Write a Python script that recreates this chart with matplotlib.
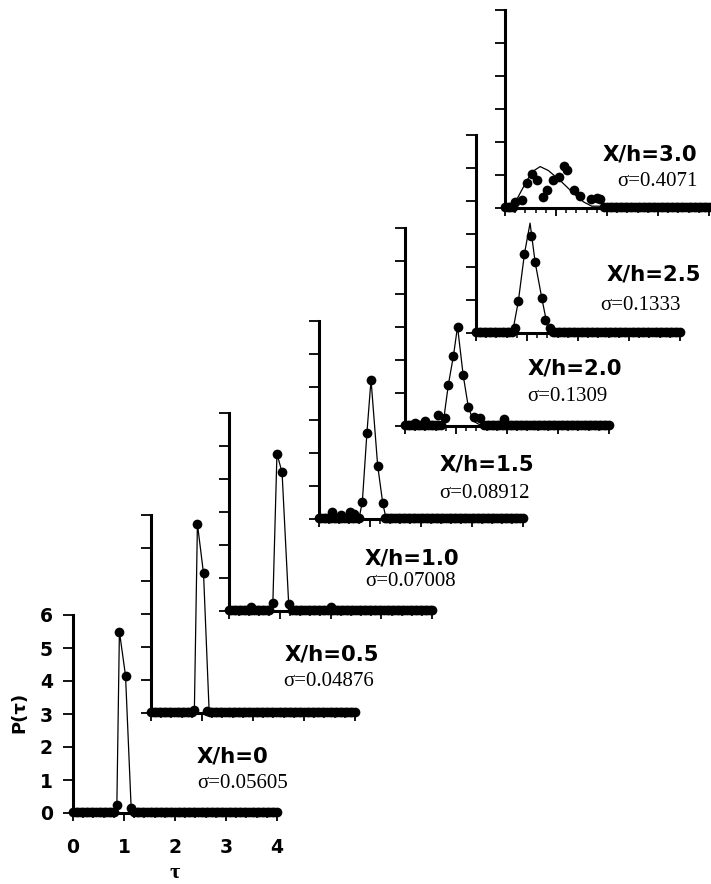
import numpy as np
import matplotlib.pyplot as plt
from matplotlib.ticker import MultipleLocator

# Travel-time distributions P(tau) at successive downstream stations

STATIONS = ["X/h=0", "X/h=0.5", "X/h=1.0", "X/h=1.5", "X/h=2.0", "X/h=2.5", "X/h=3.0"]
SIGMAS = ["σ=0.05605", "σ=0.04876", "σ=0.07008", "σ=0.08912",
          "σ=0.1309", "σ=0.1333", "σ=0.4071"]

# measured points in the peak region
tau_0 = [0.86, 0.91, 1.03, 1.14]
p_0 = [0.23, 5.50, 4.16, 0.16]
tau_1 = [0.85, 0.91, 1.03, 1.10]
p_1 = [0.08, 5.73, 4.23, 0.06]
tau_2 = [0.87, 0.95, 1.05, 1.18]
p_2 = [0.24, 4.75, 4.19, 0.20]
tau_3 = [0.86, 0.95, 1.03, 1.16, 1.26]
p_3 = [0.53, 2.62, 4.22, 1.62, 0.48]
tau_4 = [0.78, 0.85, 0.95, 1.03, 1.14, 1.24, 1.36, 1.47]
p_4 = [0.25, 1.25, 2.13, 3.01, 1.55, 0.59, 0.27, 0.25]
tau_5 = [0.76, 0.83, 0.95, 1.07, 1.16, 1.29, 1.35, 1.45]
p_5 = [0.15, 0.96, 2.40, 2.93, 2.14, 1.06, 0.40, 0.15]
tau_6 = [0.20, 0.33, 0.43, 0.53, 0.62, 0.75, 0.82, 0.95, 1.05, 1.15, 1.22,
         1.35, 1.48, 1.68, 1.80, 1.87]
p_6 = [0.17, 0.24, 0.73, 1.03, 0.83, 0.32, 0.52, 0.83, 0.93, 1.25, 1.15,
       0.52, 0.34, 0.27, 0.30, 0.27]

# small bumps on the floor away from the peak
bump_tau_2 = [0.45, 2.00]
bump_p_2 = [0.12, 0.12]
bump_tau_3 = [0.26, 0.45, 0.62, 0.70]
bump_p_3 = [0.20, 0.12, 0.20, 0.15]
bump_tau_4 = [0.20, 0.40, 0.65, 1.95]
bump_p_4 = [0.10, 0.15, 0.32, 0.20]

# fitted curves
fit_tau_0 = [0.0, 0.82, 0.86, 0.91, 1.03, 1.14, 1.17, 4.0]
fit_p_0 = [0.03, 0.03, 0.23, 5.50, 4.16, 0.16, 0.03, 0.03]
fit_tau_1 = [0.0, 0.85, 0.91, 1.03, 1.14, 4.0]
fit_p_1 = [0.03, 0.05, 5.73, 4.23, 0.05, 0.03]
fit_tau_2 = [0.0, 0.84, 0.87, 0.95, 1.05, 1.18, 1.22, 4.0]
fit_p_2 = [0.03, 0.05, 0.24, 4.75, 4.19, 0.20, 0.05, 0.03]
fit_tau_3 = [0.0, 0.80, 0.86, 0.95, 1.03, 1.16, 1.26, 1.32, 4.0]
fit_p_3 = [0.03, 0.05, 0.53, 2.62, 4.22, 1.62, 0.48, 0.05, 0.03]
fit_tau_4 = [0.0, 0.75, 0.85, 0.95, 1.03, 1.14, 1.24, 1.34, 1.45, 4.0]
fit_p_4 = [0.03, 0.10, 1.25, 2.13, 3.01, 1.55, 0.59, 0.15, 0.05, 0.03]
fit_tau_5 = [0.0, 0.72, 0.83, 0.95, 1.06, 1.16, 1.29, 1.42, 4.0]
fit_p_5 = [0.03, 0.05, 0.96, 2.40, 3.33, 2.14, 1.06, 0.05, 0.03]
fit_tau_6 = [0.0, 0.12, 0.25, 0.43, 0.55, 0.69, 0.85, 1.08, 1.35, 1.54, 1.70, 4.0]
fit_p_6 = [0.03, 0.03, 0.30, 0.82, 1.10, 1.24, 1.12, 0.82, 0.42, 0.17, 0.04, 0.03]

PEAK_TAU = [tau_0, tau_1, tau_2, tau_3, tau_4, tau_5, tau_6]
PEAK_P = [p_0, p_1, p_2, p_3, p_4, p_5, p_6]
BUMP_TAU = [[], [], bump_tau_2, bump_tau_3, bump_tau_4, [], []]
BUMP_P = [[], [], bump_p_2, bump_p_3, bump_p_4, [], []]
FIT_TAU = [fit_tau_0, fit_tau_1, fit_tau_2, fit_tau_3, fit_tau_4, fit_tau_5, fit_tau_6]
FIT_P = [fit_p_0, fit_p_1, fit_p_2, fit_p_3, fit_p_4, fit_p_5, fit_p_6]

# histogram bins and the floor level outside the peak
TAU_BINS = np.round(np.arange(0, 4.001, 0.05), 2)
FLOOR_P = 0.03

# layout in pixels: (left of y-axis, y of baseline)
W, H = 711, 884
ORIGINS = [(73, 813), (151, 713), (228.5, 610.5), (318.5, 519),
           (405, 426), (476, 333), (505, 207.5)]
AX_W, AX_H = 204, 198
LABEL_POS = [(197, 756), (285, 655), (365, 558), (440, 465), (528, 368), (607, 274), (603, 154)]
SIGMA_POS = [(197, 783), (283, 682), (365, 581), (439, 493), (527, 397), (600, 305), (617, 182)]
MS = 7

fig = plt.figure(figsize=(W / 100, H / 100), dpi=100)

for i in range(len(STATIONS)):
    x0, y0 = ORIGINS[i]
    ax = fig.add_axes([x0 / W, 1 - y0 / H, AX_W / W, AX_H / H])
    ax.patch.set_alpha(0)
    ax.set_xlim(0, 4)
    ax.set_ylim(0, 6)
    for s in ("top", "right"):
        ax.spines[s].set_visible(False)
    for s in ("left", "bottom"):
        ax.spines[s].set_linewidth(2.2)

    lo, hi = min(PEAK_TAU[i]) - 0.03, max(PEAK_TAU[i]) + 0.03
    floor_tau = TAU_BINS[(TAU_BINS < lo) | (TAU_BINS > hi)]
    floor_p = np.full(len(floor_tau), FLOOR_P)

    ax.plot(FIT_TAU[i], FIT_P[i], color="black", lw=0.9, clip_on=False, zorder=3)
    ax.plot(floor_tau, floor_p, "o", color="black", ms=MS, mew=0, clip_on=False, zorder=4)
    ax.plot(PEAK_TAU[i], PEAK_P[i], "o", color="black", ms=MS, mew=0, clip_on=False, zorder=4)
    if BUMP_TAU[i]:
        ax.plot(BUMP_TAU[i], BUMP_P[i], "o", color="black", ms=MS, mew=0, clip_on=False, zorder=4)

    ax.xaxis.set_major_locator(MultipleLocator(1))
    ax.xaxis.set_minor_locator(MultipleLocator(0.2))
    ax.yaxis.set_major_locator(MultipleLocator(1))
    ax.tick_params(axis="y", direction="out", length=7.5, width=1.3, pad=7)
    ax.tick_params(axis="x", which="major", direction="out", length=6, width=1.3, pad=12)
    ax.tick_params(axis="x", which="minor", direction="out", length=3.5, width=1.1)

    if i == 0:
        for lab in ax.get_xticklabels() + ax.get_yticklabels():
            lab.set_fontweight("bold")
            lab.set_fontsize(13.5)
    else:
        ax.set_xticklabels([])
        ax.set_yticklabels([])

    lx, ly = LABEL_POS[i]
    fig.text(lx / W, 1 - ly / H, STATIONS[i], ha="left", va="center",
             fontsize=15.3, fontweight="bold", family="DejaVu Sans")
    sx, sy = SIGMA_POS[i]
    fig.text(sx / W, 1 - sy / H, SIGMAS[i], ha="left", va="center",
             fontsize=15, family="Liberation Serif")

fig.text(19 / W, 1 - 712 / H, "P(τ)", rotation=90, ha="center", va="center",
         fontsize=13, fontweight="bold")
fig.text(175 / W, 1 - 873 / H, "τ", ha="center", va="center",
         fontsize=16, fontweight="bold", family="Liberation Serif")

fig.savefig("out.png", dpi=100)
